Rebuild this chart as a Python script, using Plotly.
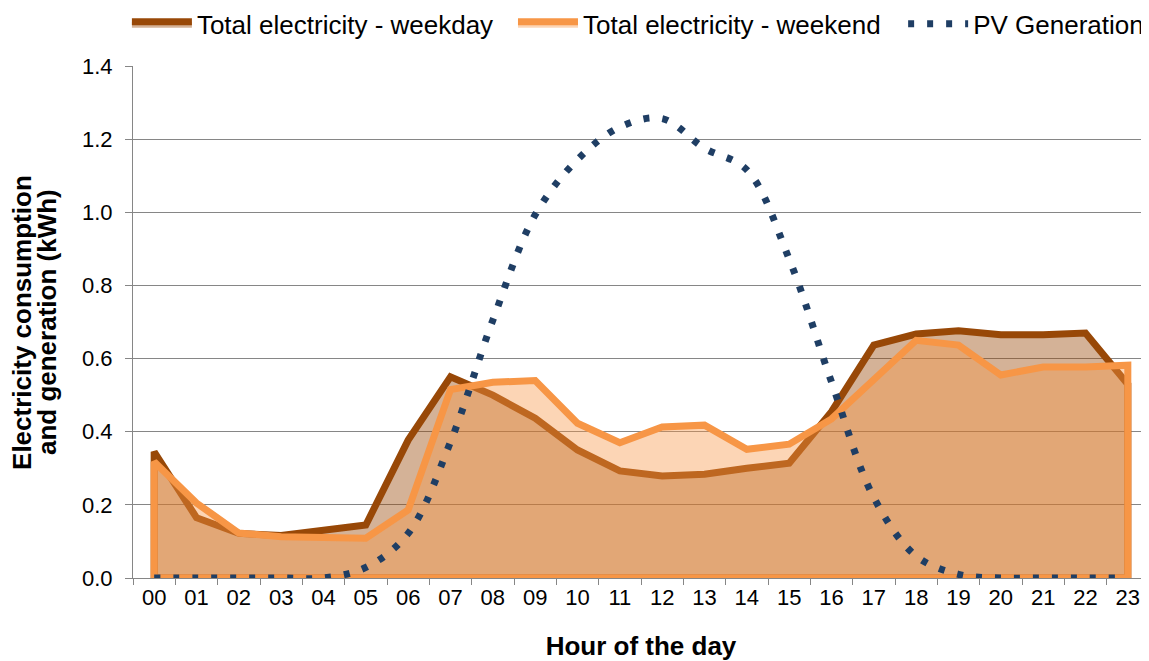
import plotly.graph_objects as go

hours = ["00", "01", "02", "03", "04", "05", "06", "07", "08", "09", "10", "11",
         "12", "13", "14", "15", "16", "17", "18", "19", "20", "21", "22", "23"]

weekday = [0.345, 0.165, 0.122, 0.116, 0.13, 0.145, 0.377, 0.55, 0.50, 0.437, 0.35, 0.293,
           0.279, 0.284, 0.30, 0.314, 0.455, 0.637, 0.667, 0.676, 0.665, 0.665, 0.67, 0.53]

weekend = [0.318, 0.205, 0.123, 0.113, 0.113, 0.109, 0.186, 0.515, 0.535, 0.54, 0.423, 0.37,
           0.413, 0.418, 0.352, 0.366, 0.435, 0.54, 0.65, 0.637, 0.555, 0.577, 0.577, 0.582]

pv = [0.0, 0.0, 0.0, 0.0, 0.0, 0.029, 0.122, 0.372, 0.705, 0.993, 1.144, 1.233,
      1.256, 1.175, 1.116, 0.872, 0.536, 0.22, 0.06, 0.01, 0.0, 0.0, 0.0, 0.0]

names = ["Total electricity - weekday", "Total electricity - weekend", "PV Generation"]
y_title_lines = ["Electricity consumption", "and generation (kWh)"]

FONT = "Liberation Sans, Arial, sans-serif"
GRID = "#868686"


def closed(vals):
    xs = [hours[0]] + hours + [hours[-1], hours[0]]
    ys = [0] + vals + [0, 0]
    return xs, ys


fig = go.Figure()

xw, yw = closed(weekday)
fig.add_trace(go.Scatter(
    x=xw, y=yw, name=names[0], mode="lines", fill="toself", legend="legend",
    fillcolor="rgba(152,72,7,0.42)",
    line=dict(color="#984807", width=7, shape="linear"),
))

xe, ye = closed(weekend)
fig.add_trace(go.Scatter(
    x=xe, y=ye, name=names[1], mode="lines", fill="toself", legend="legend2",
    fillcolor="rgba(247,150,70,0.40)",
    line=dict(color="#F79646", width=7, shape="linear"),
))

fig.add_trace(go.Scatter(
    x=hours, y=pv, name=names[2], mode="lines", cliponaxis=False, legend="legend3",
    line=dict(color="#1F3E64", width=7, dash="6px,13px", shape="spline", smoothing=1.0),
))


def leg(x):
    return dict(
        orientation="h", x=x, xanchor="left", y=1.128, yanchor="top",
        font=dict(family=FONT, size=26, color="#000000"),
        itemwidth=60, bgcolor="rgba(0,0,0,0)",
    )


# y-axis title drawn as two rotated text lines (tighter line spacing as in the reference)
for xpos, line_text in zip([-0.1093, -0.0846], y_title_lines):
    fig.add_annotation(
        text="<b>" + line_text + "</b>", xref="paper", yref="paper",
        x=xpos, y=0.5, xanchor="center", yanchor="middle", textangle=-90,
        showarrow=False, font=dict(family=FONT, size=26, color="#000000"),
    )

# page body adds an 8px offset; figure is sized so the plot lands where the reference has it
fig.update_layout(
    width=1149, height=653,
    margin=dict(l=125, r=8, t=58, b=83, autoexpand=False),
    paper_bgcolor="white", plot_bgcolor="white",
    font=dict(family=FONT, size=22, color="#000000"),
    showlegend=True,
    legend=leg(-0.006),
    legend2=leg(0.374),
    legend3=leg(0.758),
    xaxis=dict(
        type="category", categoryorder="array", categoryarray=hours,
        range=[-0.5, 23.5], automargin=False,
        tickson="boundaries", ticks="outside", ticklen=6, tickcolor=GRID,
        showline=True, linecolor=GRID, linewidth=1,
        showgrid=False, zeroline=False,
        tickfont=dict(family=FONT, size=22, color="#000000"),
        title=dict(text="<b>Hour of the day</b>", font=dict(family=FONT, size=26, color="#000000"),
                   standoff=36),
    ),
    yaxis=dict(
        range=[0, 1.4], dtick=0.2, tick0=0, tickformat=".1f", automargin=False,
        ticks="outside", ticklen=7, tickcolor=GRID, ticklabelstandoff=8,
        showline=True, linecolor=GRID, linewidth=1,
        showgrid=True, gridcolor=GRID, gridwidth=1, zeroline=False,
        tickfont=dict(family=FONT, size=22, color="#000000"),
    ),
)

fig.write_html("out.html")
